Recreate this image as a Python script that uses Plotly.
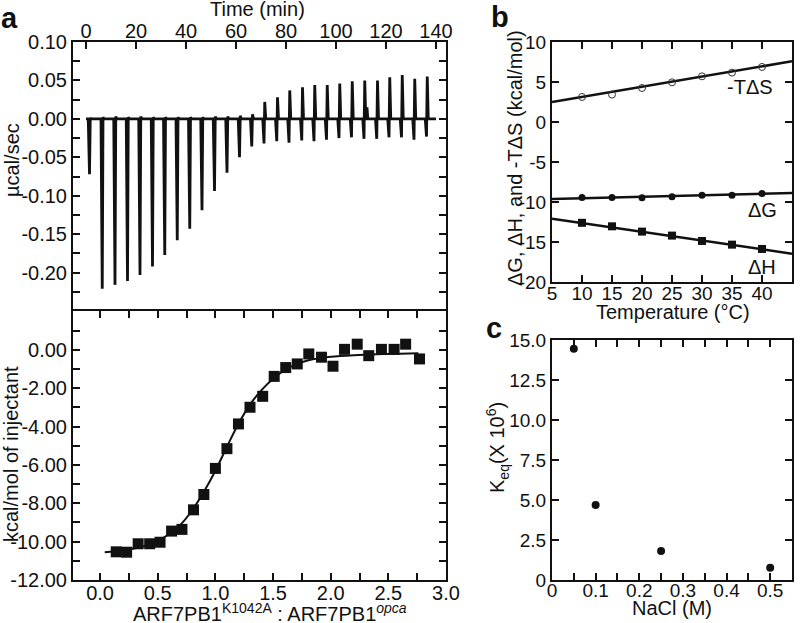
import numpy as np
import plotly.graph_objects as go

# ---------------- data ----------------
# Panel a (top): raw ITC thermogram, injection times (min) and peak heights (ucal/sec)
inj_time = [1.1, 6.2, 11.3, 16.3, 21.3, 26.3, 31.2, 36.2, 41.2, 46.1, 51.1, 56.1, 61.1, 66.0,
            70.9, 76.0, 80.9, 86.0, 90.9, 95.9, 100.9, 105.9, 110.9, 116.0, 120.9, 125.9, 130.9, 135.9]
inj_min = [-0.072, -0.221, -0.216, -0.211, -0.203, -0.192, -0.177, -0.158, -0.143, -0.119, -0.094,
           -0.070, -0.050, -0.036, -0.032, -0.029, -0.031, -0.028, -0.029, -0.027, -0.025, -0.024,
           -0.026, -0.026, -0.024, -0.024, -0.027, -0.023]
inj_max = [0.001, 0.002, 0.003, 0.002, 0.003, 0.002, 0.002, 0.002, 0.002, 0.002, 0.003,
           0.003, 0.004, 0.006, 0.022, 0.028, 0.037, 0.041, 0.044, 0.044, 0.046, 0.049,
           0.050, 0.050, 0.054, 0.057, 0.052, 0.055]
glitch_time = [112.4]
glitch_val = [0.015]

# Panel a (bottom): integrated heats
ratio = [0.14, 0.23, 0.33, 0.43, 0.52, 0.62, 0.71, 0.81, 0.90, 1.00, 1.10, 1.20, 1.30, 1.41,
         1.51, 1.61, 1.71, 1.81, 1.92, 2.02, 2.12, 2.23, 2.33, 2.44, 2.55, 2.65, 2.77]
heat = [-10.53, -10.55, -10.11, -10.11, -10.03, -9.45, -9.36, -8.34, -7.54, -6.18, -5.15, -3.86,
        -2.99, -2.42, -1.38, -0.92, -0.73, -0.21, -0.38, -0.85, 0.03, 0.30, -0.30, 0.03, 0.03,
        0.30, -0.47]
fit_ratio = [0.04, 0.2, 0.4, 0.5, 0.6, 0.7, 0.8, 0.9, 1.0, 1.1, 1.2, 1.3, 1.4, 1.5, 1.6, 1.7,
             1.8, 1.9, 2.0, 2.2, 2.4, 2.6, 2.76]
fit_heat = [-10.55, -10.45, -10.2, -9.95, -9.6, -9.1, -8.35, -7.4, -6.3, -5.05, -3.85, -2.85,
            -2.1, -1.5, -1.05, -0.75, -0.55, -0.43, -0.36, -0.28, -0.23, -0.2, -0.18]

# Panel b: thermodynamics vs temperature
temps = [10, 15, 20, 25, 30, 35, 40]
neg_TdS = [3.13, 3.42, 4.25, 4.96, 5.71, 6.17, 6.88]
dG = [-9.45, -9.45, -9.47, -9.33, -9.16, -9.16, -8.95]
dH = [-12.6, -13.04, -13.7, -14.2, -14.87, -15.33, -15.87]
fit_T = [5, 45]
fit_TdS = [2.5, 7.59]
fit_dG = [-9.62, -8.87]
fit_dH = [-12.08, -16.46]

# Panel c: Keq vs NaCl
nacl = [0.05, 0.1, 0.25, 0.5]
keq = [14.46, 4.69, 1.81, 0.77]

# ---------------- build thermogram path ----------------
tx, ty = [0.0], [0.0]
for t, mn, mx in zip(inj_time, inj_min, inj_max):
    tx += [t - 0.2, t + 0.3, t + 0.6, t + 1.0]
    ty += [0.0, mn, mx, 0.0]
    for gt, gv in zip(glitch_time, glitch_val):
        if t < gt < t + 5:
            tx += [gt - 0.3, gt, gt + 0.3]
            ty += [0.0, gv, 0.0]
tx.append(140.0)
ty.append(0.0)

FONT = "Liberation Sans, Arial, Helvetica, sans-serif"
BLACK = "#111111"

fig = go.Figure()
fig.add_trace(go.Scatter(x=tx, y=ty, mode="lines", line=dict(color=BLACK, width=2.8),
                         xaxis="x", yaxis="y", showlegend=False))
fig.add_trace(go.Scatter(x=fit_ratio, y=fit_heat, mode="lines", line=dict(color=BLACK, width=2, shape="spline"),
                         xaxis="x2", yaxis="y2", showlegend=False))
fig.add_trace(go.Scatter(x=ratio, y=heat, mode="markers",
                         marker=dict(symbol="square", size=11, color=BLACK),
                         xaxis="x2", yaxis="y2", showlegend=False))
# panel b
for fy in (fit_TdS, fit_dG, fit_dH):
    fig.add_trace(go.Scatter(x=fit_T, y=fy, mode="lines", line=dict(color=BLACK, width=2.5),
                             xaxis="x3", yaxis="y3", showlegend=False))
fig.add_trace(go.Scatter(x=temps, y=neg_TdS, mode="markers",
                         marker=dict(symbol="circle-open", size=7, color="#333", line=dict(width=1)),
                         xaxis="x3", yaxis="y3", showlegend=False))
fig.add_trace(go.Scatter(x=temps, y=dG, mode="markers",
                         marker=dict(symbol="circle", size=7, color=BLACK),
                         xaxis="x3", yaxis="y3", showlegend=False))
fig.add_trace(go.Scatter(x=temps, y=dH, mode="markers",
                         marker=dict(symbol="square", size=8, color=BLACK),
                         xaxis="x3", yaxis="y3", showlegend=False))
# panel c
fig.add_trace(go.Scatter(x=nacl, y=keq, mode="markers",
                         marker=dict(symbol="circle", size=8, color=BLACK),
                         xaxis="x4", yaxis="y4", showlegend=False))

W, H = 800, 623
def dx(a, b):
    return [a / W, b / W]
def dy(top, bot):
    return [1 - bot / H, 1 - top / H]

ax_common = dict(showline=True, linewidth=2, linecolor=BLACK, ticks="inside", ticklen=7,
                 tickwidth=2, tickcolor=BLACK, showgrid=False, zeroline=False,
                 automargin=False, tickfont=dict(family=FONT, size=20, color=BLACK))
ax_b = dict(ax_common, tickfont=dict(family=FONT, size=19, color=BLACK))

top_y_vals = [0.10, 0.05, 0.0, -0.05, -0.10, -0.15, -0.20]
bot_y_vals = [0, -2, -4, -6, -8, -10, -12]
b_y_vals = [10, 5, 0, -5, -10, -15, -20]
c_y_vals = [15, 12.5, 10, 7.5, 5, 2.5, 0]

fig.update_layout(
    width=W, height=H, margin=dict(l=0, r=0, t=0, b=0),
    paper_bgcolor="white", plot_bgcolor="white", template="none",
    font=dict(family=FONT, color=BLACK),
    xaxis=dict(ax_common, domain=dx(73, 446), anchor="y", side="top", range=[-5.2, 144],
               tickvals=list(range(0, 141, 20)), mirror=False, ticklabelstandoff=-6),
    yaxis=dict(ax_common, domain=dy(42, 311), anchor="x", range=[-0.25, 0.10],
               tickvals=top_y_vals, ticktext=["%.2f" % v for v in top_y_vals], mirror="ticks",
               minor=dict(tickvals=list(np.round(np.arange(-0.25, 0.1001, 0.025), 4)),
                          ticks="inside", ticklen=7, tickwidth=2, tickcolor=BLACK)),
    xaxis2=dict(ax_common, domain=dx(73, 446), anchor="y2", range=[-0.235, 3.0],
                tick0=0, dtick=0.5, tickformat=".1f", mirror="ticks", ticklabelstandoff=-6,
                minor=dict(tickvals=list(np.round(np.arange(0, 3.01, 0.25), 3)),
                           ticks="inside", ticklen=7, tickwidth=2, tickcolor=BLACK)),
    yaxis2=dict(ax_common, domain=dy(311, 580), anchor="x2", range=[-12, 2.03],
                tickvals=bot_y_vals, ticktext=["%.2f" % v for v in bot_y_vals], mirror="ticks",
                minor=dict(tickvals=list(range(-12, 3)), ticks="inside", ticklen=7,
                           tickwidth=2, tickcolor=BLACK)),
    xaxis3=dict(ax_b, domain=dx(552, 792), anchor="y3", range=[5, 45], tick0=5, dtick=5,
                mirror="ticks", ticklabelstandoff=-7),
    yaxis3=dict(ax_b, domain=dy(42, 282), anchor="x3", range=[-20, 10],
                tickvals=b_y_vals, ticktext=["%d" % v for v in b_y_vals], mirror="ticks"),
    xaxis4=dict(ax_b, domain=dx(552, 792), anchor="y4", range=[0, 0.55],
                tickvals=[0, 0.1, 0.2, 0.3, 0.4, 0.5], ticktext=["0", "0.1", "0.2", "0.3", "0.4", "0.5"],
                mirror="ticks", ticklabelstandoff=-8,
                minor=dict(tickvals=list(np.round(np.arange(0, 0.551, 0.05), 3)), ticks="inside",
                           ticklen=7, tickwidth=2, tickcolor=BLACK)),
    yaxis4=dict(ax_b, domain=dy(340, 580), anchor="x4", range=[0, 15],
                tickvals=c_y_vals, ticktext=["15.0", "12.5", "10.0", "7.5", "5.0", "2.5", "0"],
                mirror="ticks"),
)

def ann(text, x, y, size=20, angle=0, bold=False):
    fig.add_annotation(text=("<b>%s</b>" % text) if bold else text, x=x / W, y=1 - y / H,
                       xref="paper", yref="paper", showarrow=False, textangle=angle,
                       xanchor="center", yanchor="middle",
                       font=dict(family=FONT, size=size, color=BLACK))

ann("a", 9, 18, size=29, bold=True)
ann("b", 500, 17, size=29, bold=True)
ann("c", 494, 328, size=29, bold=True)
ann("Time (min)", 257, 9)
ann("µcal/sec", 12, 160, angle=-90)
ann("kcal/mol of injectant", 11, 454, angle=-90)
ann("ARF7PB1<sup>K1042A</sup> : ARF7PB1<sup><i>opca</i></sup>", 270, 612)
ann("ΔG, ΔH, and -TΔS (kcal/mol)", 515, 158, angle=-90)
ann("Temperature (°C)", 673, 312)
ann("K<sub>eq</sub>(X 10<sup>6</sup>)", 497, 448, angle=-90)
ann("NaCl (M)", 672, 608)
ann("-TΔS", 750, 87)
ann("ΔG", 762, 210)
ann("ΔH", 762, 267)

fig.write_html("out.html", config={"displayModeBar": False},
               post_script="document.body.style.margin='0';document.body.style.padding='0';")
